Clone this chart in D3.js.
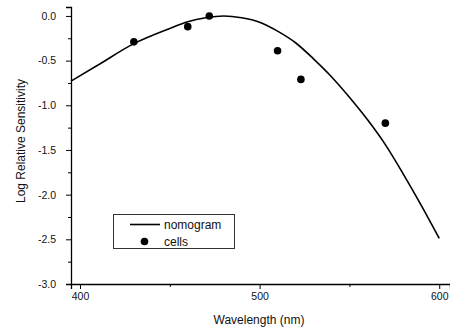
<!DOCTYPE html>
<html>
<head>
<meta charset="utf-8">
<script src="https://cdn.jsdelivr.net/npm/d3@7"></script>
<style>
  html, body { margin: 0; padding: 0; background: #fff; }
  text { font-family: "Liberation Sans", Arial, sans-serif; fill: #111; }
</style>
</head>
<body>
<div id="chart"></div>
<script>
// nomogram curve
const curveWavelengths = [395, 410, 430, 450, 460, 470, 480, 490, 500, 510, 520, 530, 540, 550, 560, 570, 580, 590, 600];
const curveValues = [-0.73, -0.55, -0.31, -0.14, -0.065, -0.02, 0.0, -0.02, -0.07, -0.17, -0.30, -0.48, -0.68, -0.91, -1.16, -1.44, -1.77, -2.12, -2.49];

// measured cells
const cellWavelengths = [430, 460, 472, 510, 523, 570];
const cellValues = [-0.29, -0.12, 0.0, -0.39, -0.71, -1.20];

const xTicks = [400, 500, 600];
const xMinorTicks = [450, 550];
const yTicks = [0, -0.5, -1.0, -1.5, -2.0, -2.5, -3.0];
const yMinorTicks = [-0.25, -0.75, -1.25, -1.75, -2.25, -2.75];

const legendLabels = ['nomogram', 'cells'];

const width = 450;
const height = 329;

const svg = d3.select('#chart')
  .append('svg')
  .attr('width', width)
  .attr('height', height);

const x = d3.scaleLinear().domain([395, 606]).range([71, 450]);
const y = d3.scaleLinear().domain([-3, 0.1]).range([284, 7]);

// axes
svg.append('g')
  .attr('transform', `translate(0,${y(-3)})`)
  .call(d3.axisBottom(x).tickValues(xTicks).tickFormat(d3.format('d')).tickSize(5).tickPadding(4))
  .call(g => g.select('.domain').attr('stroke', '#000').attr('stroke-width', 1.3));

svg.append('g')
  .attr('transform', `translate(0,${y(-3)})`)
  .call(d3.axisBottom(x).tickValues(xMinorTicks).tickFormat('').tickSize(3))
  .call(g => g.select('.domain').remove());

svg.append('g')
  .attr('transform', `translate(${x(395)},0)`)
  .call(d3.axisLeft(y).tickValues(yTicks).tickFormat(d3.format('.1f')).tickSize(5).tickPadding(10))
  .call(g => g.select('.domain').attr('stroke', '#000').attr('stroke-width', 1.3));

svg.append('g')
  .attr('transform', `translate(${x(395)},0)`)
  .call(d3.axisLeft(y).tickValues(yMinorTicks).tickFormat('').tickSize(3))
  .call(g => g.select('.domain').remove());

svg.selectAll('.tick text')
  .attr('font-size', '10.5px')
  .attr('font-family', '"Liberation Sans", Arial, sans-serif')
  .attr('fill', '#111')
  .text(function () { return this.textContent.replace('−', '-'); });

// axis titles
svg.append('text')
  .attr('x', 259)
  .attr('y', 324)
  .attr('text-anchor', 'middle')
  .attr('font-size', '12px')
  .text('Wavelength (nm)');

svg.append('text')
  .attr('transform', 'translate(25,141) rotate(-90)')
  .attr('text-anchor', 'middle')
  .attr('font-size', '12px')
  .text('Log Relative Sensitivity');

// nomogram line
const line = d3.line()
  .x((d, i) => x(curveWavelengths[i]))
  .y(d => y(d))
  .curve(d3.curveMonotoneX);

svg.append('path')
  .datum(curveValues)
  .attr('d', line)
  .attr('fill', 'none')
  .attr('stroke', '#000')
  .attr('stroke-width', 1.6);

// cell points
svg.selectAll('circle.cell')
  .data(cellValues)
  .enter()
  .append('circle')
  .attr('class', 'cell')
  .attr('cx', (d, i) => x(cellWavelengths[i]))
  .attr('cy', d => y(d))
  .attr('r', 3.8)
  .attr('fill', '#000');

// legend
const legend = svg.append('g');
legend.append('rect')
  .attr('x', 113.5)
  .attr('y', 214.5)
  .attr('width', 121)
  .attr('height', 34)
  .attr('fill', '#fff')
  .attr('stroke', '#333')
  .attr('stroke-width', 1);

legend.append('line')
  .attr('x1', 130).attr('x2', 160)
  .attr('y1', 224.5).attr('y2', 224.5)
  .attr('stroke', '#000')
  .attr('stroke-width', 1.6);

legend.append('circle')
  .attr('cx', 144.5)
  .attr('cy', 241.5)
  .attr('r', 3.8)
  .attr('fill', '#000');

legend.selectAll('text')
  .data(legendLabels)
  .enter()
  .append('text')
  .attr('x', 164)
  .attr('y', (d, i) => 229 + i * 17)
  .attr('font-size', '12px')
  .text(d => d);
</script>
</body>
</html>
